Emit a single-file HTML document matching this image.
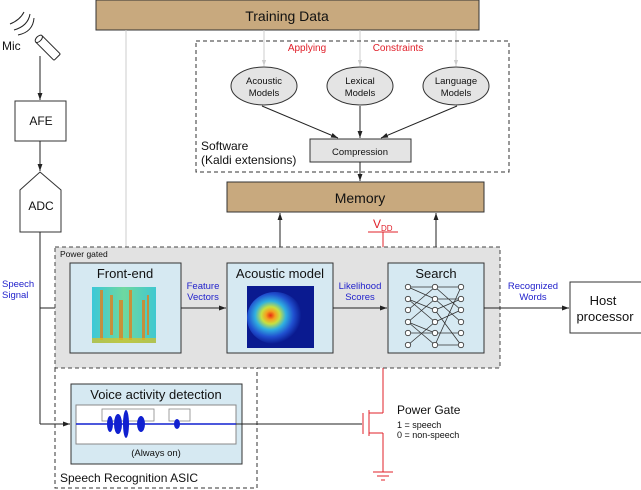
<!DOCTYPE html>
<html><head><meta charset="utf-8"><style>
html,body{margin:0;padding:0;background:#fff;}
svg{display:block;font-family:"Liberation Sans",Arial,sans-serif;}
</style></head><body>
<svg width="641" height="490" viewBox="0 0 641 490" xmlns="http://www.w3.org/2000/svg">
<defs>
<marker id="a" viewBox="0 0 10 10" refX="10" refY="5" markerWidth="7" markerHeight="7" orient="auto-start-reverse"><path d="M0,1.5 L10,5 L0,8.5z" fill="#222"/></marker>
<marker id="g" viewBox="0 0 10 10" refX="10" refY="5" markerWidth="6" markerHeight="6" orient="auto"><path d="M0,1.5 L10,5 L0,8.5z" fill="#ccc"/></marker>
<radialGradient id="sc" cx="0.42" cy="0.45" r="0.55"><stop offset="0" stop-color="#e82a10"/><stop offset="0.15" stop-color="#f5a020"/><stop offset="0.3" stop-color="#c8e040"/><stop offset="0.5" stop-color="#30b0e0"/><stop offset="0.75" stop-color="#2050d0"/><stop offset="1" stop-color="#0a1a90"/></radialGradient>
<linearGradient id="sp" x1="0" y1="0" x2="1" y2="0"><stop offset="0" stop-color="#3cc8d8"/><stop offset="0.5" stop-color="#6ed8a0"/><stop offset="1" stop-color="#40c8d0"/></linearGradient>
</defs>

<rect x="96" y="0" width="383" height="30" fill="#c8a97e" stroke="#333"/>
<text x="287" y="21" font-size="14" text-anchor="middle" fill="#111">Training Data</text>

<line x1="126" y1="30" x2="126" y2="262" stroke="#ccc" marker-end="url(#g)"/>
<line x1="264" y1="30" x2="264" y2="66" stroke="#ccc" marker-end="url(#g)"/>
<line x1="360" y1="30" x2="360" y2="66" stroke="#ccc" marker-end="url(#g)"/>
<line x1="456" y1="30" x2="456" y2="66" stroke="#ccc" marker-end="url(#g)"/>

<rect x="196" y="41" width="313" height="131" fill="none" stroke="#333" stroke-dasharray="4,3"/>
<text x="307" y="51" font-size="10" fill="#e0202a" text-anchor="middle">Applying</text>
<text x="398" y="51" font-size="10" fill="#e0202a" text-anchor="middle">Constraints</text>
<g font-size="9.5" text-anchor="middle" fill="#111">
<ellipse cx="264" cy="86" rx="33" ry="19" fill="#e4e4e4" stroke="#333"/>
<text x="264" y="84">Acoustic</text><text x="264" y="96">Models</text>
<ellipse cx="360" cy="86" rx="33" ry="19" fill="#e4e4e4" stroke="#333"/>
<text x="360" y="84">Lexical</text><text x="360" y="96">Models</text>
<ellipse cx="456" cy="86" rx="33" ry="19" fill="#e4e4e4" stroke="#333"/>
<text x="456" y="84">Language</text><text x="456" y="96">Models</text>
</g>
<line x1="262" y1="106" x2="338" y2="138" stroke="#222" marker-end="url(#a)"/>
<line x1="360" y1="106" x2="360" y2="138" stroke="#222" marker-end="url(#a)"/>
<line x1="457" y1="106" x2="381" y2="138" stroke="#222" marker-end="url(#a)"/>
<rect x="310" y="139" width="101" height="23" fill="#e4e4e4" stroke="#333"/>
<text x="360" y="155" font-size="9.5" text-anchor="middle" fill="#111">Compression</text>
<text x="201" y="150" font-size="12" fill="#111">Software</text>
<text x="201" y="164" font-size="12" fill="#111">(Kaldi extensions)</text>
<line x1="360" y1="162" x2="360" y2="181" stroke="#222" marker-end="url(#a)"/>

<rect x="227" y="182" width="257" height="30" fill="#c8a97e" stroke="#333"/>
<text x="360" y="203" font-size="14" text-anchor="middle" fill="#111">Memory</text>
<line x1="280" y1="213" x2="280" y2="262" stroke="#222" marker-start="url(#a)" marker-end="url(#a)"/>
<line x1="436" y1="213" x2="436" y2="262" stroke="#222" marker-start="url(#a)" marker-end="url(#a)"/>

<text x="373" y="228" font-size="12" fill="#e0202a">V</text>
<text x="381" y="231" font-size="8" fill="#e0202a">DD</text>
<line x1="368" y1="232" x2="398" y2="232" stroke="#e0202a"/>
<line x1="383" y1="232" x2="383" y2="248" stroke="#e0202a"/>

<g stroke="#222" fill="none" stroke-width="1">
<path d="M10,24 Q20,20 24,12"/><path d="M14,30 Q28,26 30,14"/><path d="M18,35 Q33,32 34,18"/>
<g transform="translate(48,48) rotate(-45)"><rect x="-4.5" y="-13" width="9" height="26" rx="1" fill="#fff"/><ellipse cx="0" cy="-13" rx="4.5" ry="2.5" fill="#fff"/></g>
</g>
<text x="2" y="50" font-size="12" fill="#111">Mic</text>
<line x1="40" y1="56" x2="40" y2="100" stroke="#222" marker-end="url(#a)"/>
<rect x="15" y="101" width="51" height="40" fill="#fff" stroke="#333"/>
<text x="41" y="125" font-size="12" text-anchor="middle" fill="#111">AFE</text>
<line x1="40" y1="141" x2="40" y2="171" stroke="#222" marker-end="url(#a)"/>
<path d="M40,172 L61,190 L61,232 L20,232 L20,190 Z" fill="#fff" stroke="#333"/>
<text x="41" y="210" font-size="12" text-anchor="middle" fill="#111">ADC</text>

<line x1="40" y1="232" x2="40" y2="424" stroke="#222"/>
<line x1="40" y1="308" x2="70" y2="308" stroke="#222" marker-end="url(#a)"/>
<line x1="40" y1="424" x2="70" y2="424" stroke="#222" marker-end="url(#a)"/>
<text x="2" y="287" font-size="9.5" fill="#2222cc">Speech</text>
<text x="2" y="298" font-size="9.5" fill="#2222cc">Signal</text>

<rect x="55" y="247" width="445" height="121" fill="#e2e2e2" stroke="#444" stroke-dasharray="4,3"/>
<text x="60" y="257" font-size="8.5" fill="#111">Power gated</text>
<path d="M55,368 L55,488 L257,488 L257,368" fill="none" stroke="#333" stroke-dasharray="4,3"/>
<text x="60" y="482" font-size="12" fill="#111">Speech Recognition ASIC</text>

<rect x="70" y="263" width="111" height="90" fill="#d6e9f2" stroke="#333"/>
<text x="125" y="278" font-size="13" text-anchor="middle" fill="#111">Front-end</text>
<rect x="92" y="287" width="64" height="56" fill="url(#sp)"/>
<g fill="#e08020" opacity="0.8">
<rect x="100" y="290" width="3" height="50"/><rect x="110" y="295" width="3" height="40"/><rect x="119" y="300" width="4" height="40"/><rect x="129" y="290" width="3" height="50"/><rect x="142" y="300" width="3" height="40"/><rect x="147" y="295" width="2" height="40"/>
</g>
<rect x="92" y="338" width="64" height="5" fill="#e0c020" opacity="0.7"/>
<line x1="181" y1="308" x2="226" y2="308" stroke="#222" marker-end="url(#a)"/>
<text x="203" y="289" font-size="9.5" text-anchor="middle" fill="#2222cc">Feature</text>
<text x="203" y="300" font-size="9.5" text-anchor="middle" fill="#2222cc">Vectors</text>

<rect x="227" y="263" width="106" height="90" fill="#d6e9f2" stroke="#333"/>
<text x="280" y="278" font-size="13" text-anchor="middle" fill="#111">Acoustic model</text>
<rect x="247" y="286" width="67" height="62" fill="#0a1a90"/>
<ellipse cx="275" cy="318" rx="28" ry="26" fill="url(#sc)"/>
<line x1="333" y1="308" x2="387" y2="308" stroke="#222" marker-end="url(#a)"/>
<text x="360" y="289" font-size="9.5" text-anchor="middle" fill="#2222cc">Likelihood</text>
<text x="360" y="300" font-size="9.5" text-anchor="middle" fill="#2222cc">Scores</text>

<rect x="388" y="263" width="96" height="90" fill="#d6e9f2" stroke="#333"/>
<text x="436" y="278" font-size="13" text-anchor="middle" fill="#111">Search</text>
<g stroke="#333" stroke-width="0.8" fill="none">
<path d="M408,287 L435,299 M408,287 L435,287 M408,299 L435,310 M408,299 L435,322 M408,310 L435,287 M408,322 L435,333 M408,322 L435,299 M408,322 L435,345 M408,333 L435,333 M408,345 L435,322"/>
<path d="M435,287 L461,287 M435,287 L461,310 M435,299 L461,322 M435,310 L461,299 M435,310 L461,345 M435,322 L461,310 M435,333 L461,333 M435,345 L461,287 M435,345 L461,345 M435,299 L461,299"/>
</g>
<g fill="#fff" stroke="#333" stroke-width="0.8">
<circle cx="408" cy="287" r="2.7"/><circle cx="408" cy="299" r="2.7"/><circle cx="408" cy="310" r="2.7"/><circle cx="408" cy="322" r="2.7"/><circle cx="408" cy="333" r="2.7"/><circle cx="408" cy="345" r="2.7"/>
<circle cx="435" cy="287" r="2.7"/><circle cx="435" cy="299" r="2.7"/><circle cx="435" cy="310" r="2.7"/><circle cx="435" cy="322" r="2.7"/><circle cx="435" cy="333" r="2.7"/><circle cx="435" cy="345" r="2.7"/>
<circle cx="461" cy="287" r="2.7"/><circle cx="461" cy="299" r="2.7"/><circle cx="461" cy="310" r="2.7"/><circle cx="461" cy="322" r="2.7"/><circle cx="461" cy="333" r="2.7"/><circle cx="461" cy="345" r="2.7"/>
</g>
<line x1="484" y1="308" x2="569" y2="308" stroke="#222" marker-end="url(#a)"/>
<text x="533" y="289" font-size="9.5" text-anchor="middle" fill="#2222cc">Recognized</text>
<text x="533" y="300" font-size="9.5" text-anchor="middle" fill="#2222cc">Words</text>
<rect x="570" y="282" width="75" height="51" fill="#fff" stroke="#333"/>
<text x="603" y="305" font-size="13" text-anchor="middle" fill="#111">Host</text>
<text x="605" y="321" font-size="13" text-anchor="middle" fill="#111">processor</text>

<rect x="71" y="384" width="171" height="80" fill="#d6e9f2" stroke="#333"/>
<text x="156" y="399" font-size="13" text-anchor="middle" fill="#111">Voice activity detection</text>
<rect x="76" y="405" width="160" height="39" fill="#fff" stroke="#888"/>
<rect x="102" y="409" width="52" height="12" fill="none" stroke="#888" stroke-width="0.8"/>
<rect x="169" y="409" width="21" height="12" fill="none" stroke="#888" stroke-width="0.8"/>
<line x1="76" y1="424" x2="236" y2="424" stroke="#1020d0" stroke-width="1.6"/>
<g fill="#1020d0">
<ellipse cx="110" cy="424" rx="3" ry="8"/><ellipse cx="118" cy="424" rx="4" ry="10"/><ellipse cx="126" cy="424" rx="3" ry="14"/><ellipse cx="141" cy="424" rx="4" ry="8"/><ellipse cx="177" cy="424" rx="3" ry="5"/>
</g>
<text x="156" y="456" font-size="9.5" text-anchor="middle" fill="#111">(Always on)</text>
<line x1="236" y1="424" x2="362" y2="424" stroke="#222"/>

<g stroke="#e0202a" fill="none">
<line x1="383" y1="368" x2="383" y2="413"/>
<line x1="383" y1="413" x2="369" y2="413"/>
<line x1="369" y1="410" x2="369" y2="436"/>
<line x1="363" y1="413" x2="363" y2="434"/>
<line x1="369" y1="433" x2="383" y2="433"/>
<line x1="383" y1="433" x2="383" y2="472"/>
<line x1="373" y1="472" x2="393" y2="472"/>
<line x1="377" y1="476" x2="389" y2="476"/>
<line x1="381" y1="480" x2="385" y2="480"/>
</g>
<text x="397" y="414" font-size="12" fill="#111">Power Gate</text>
<text x="397" y="428" font-size="9" fill="#111">1 = speech</text>
<text x="397" y="438" font-size="9" fill="#111">0 = non-speech</text>
</svg>
</body></html>
